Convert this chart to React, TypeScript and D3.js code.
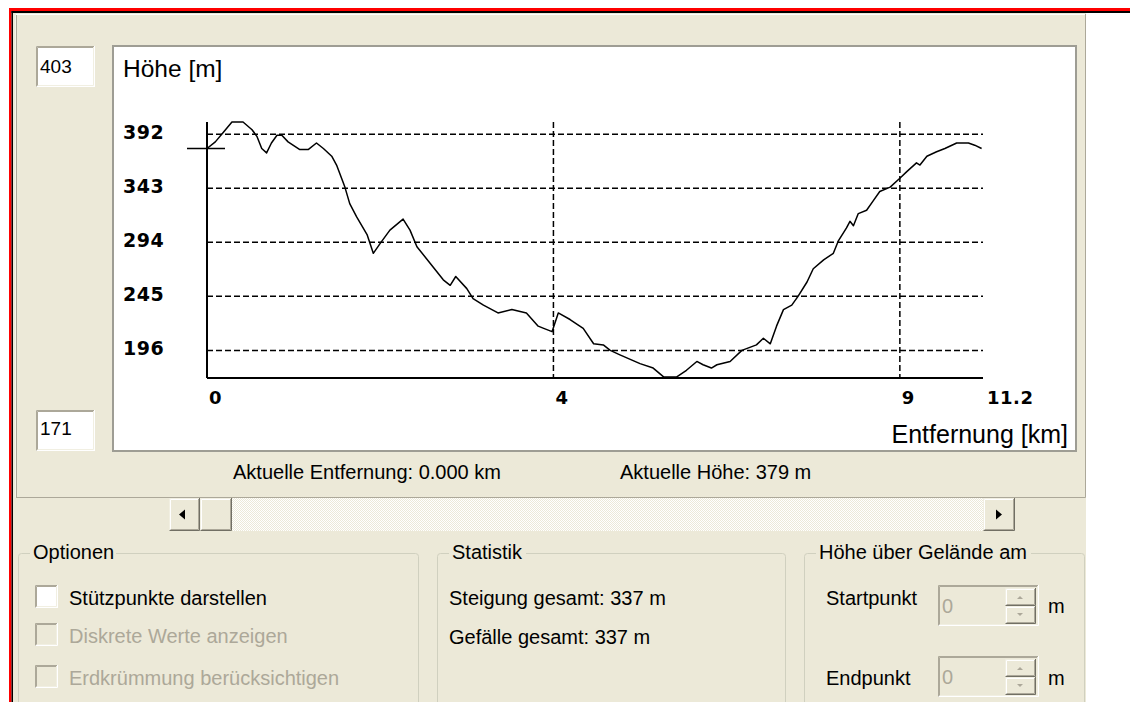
import * as d3 from 'd3'

// elevation profile
const distKm = [0, 0.12, 0.24, 0.36, 0.52, 0.65, 0.72, 0.79, 0.86, 0.93, 1.01, 1.08, 1.17, 1.34, 1.46, 1.58, 1.68, 1.8, 1.87, 1.99, 2.06, 2.16, 2.31, 2.4, 2.5, 2.64, 2.83, 2.93, 3.03, 3.22, 3.41, 3.51, 3.59, 3.75, 3.84, 3.99, 4.2, 4.4, 4.61, 4.78, 4.86, 4.98, 5.07, 5.24, 5.43, 5.58, 5.72, 5.82, 5.96, 6.25, 6.44, 6.59, 6.78, 6.92, 7.07, 7.16, 7.28, 7.36, 7.55, 7.72, 7.93, 8.03, 8.13, 8.22, 8.32, 8.44, 8.53, 8.66, 8.75, 8.9, 9.04, 9.11, 9.23, 9.28, 9.33, 9.4, 9.52, 9.62, 9.71, 9.86, 10.0, 10.1, 10.24, 10.29, 10.39, 10.53, 10.65, 10.82, 10.99, 11.08, 11.18]
const elevM = [379, 385, 394, 403, 403, 396, 390, 379, 375, 384, 391, 391, 385, 378, 378, 384, 379, 372, 364, 344, 329, 317, 301, 284, 293, 305, 315, 305, 290, 275, 260, 255, 263, 252, 243, 237, 230, 233, 230, 218, 216, 213, 230, 224, 216, 202, 201, 196, 192, 184, 180, 172, 172, 178, 186, 183, 180, 183, 186, 196, 201, 207, 202, 218, 233, 237, 245, 258, 270, 278, 284, 295, 307, 313, 309, 320, 323, 332, 340, 344, 352, 358, 366, 364, 372, 376, 379, 384, 384, 382, 379]

const yTicks = [196, 245, 294, 343, 392]
const xTickPos = [0, 5, 10]
const xTickLabels = ['0', '4', '9']
const totalKm = 11.2
const minElev = 171
const maxElev = 403
const curDist = 0
const curElev = 379
const ascent = 337
const descent = 337

const options = ['Stützpunkte darstellen', 'Diskrete Werte anzeigen', 'Erdkrümmung berücksichtigen']
const optionEnabled = [true, false, false]

const BEIGE = '#ECE9D8'
const DARK = '#716F64'
const MID = '#ACA899'
const LIGHT = '#F1EFE2'
const SANS = "'Liberation Sans', Arial, sans-serif"
const BOLD = "'DejaVu Sans', sans-serif"

function Sunken({ x, y, w, h, fill }: { x: number; y: number; w: number; h: number; fill: string }) {
  return (
    <g fill="none" strokeWidth={1}>
      <rect x={x} y={y} width={w} height={h} fill={fill} />
      <path d={`M${x + 0.5},${y + h} V${y + 0.5} H${x + w}`} stroke={MID} />
      <path d={`M${x + 1.5},${y + h - 1} V${y + 1.5} H${x + w - 1}`} stroke={MID} />
      <path d={`M${x + 0.5},${y + h - 0.5} H${x + w - 0.5} V${y}`} stroke="#fff" />
      <path d={`M${x + 1.5},${y + h - 1.5} H${x + w - 1.5} V${y + 1}`} stroke={LIGHT} />
    </g>
  )
}

function Raised({ x, y, w, h }: { x: number; y: number; w: number; h: number }) {
  return (
    <g fill="none" strokeWidth={1}>
      <rect x={x} y={y} width={w} height={h} fill={BEIGE} />
      <path d={`M${x + 0.5},${y + h} V${y + 0.5} H${x + w}`} stroke={LIGHT} />
      <path d={`M${x + 1.5},${y + h - 1} V${y + 1.5} H${x + w - 1}`} stroke="#fff" />
      <path d={`M${x + 0.5},${y + h - 0.5} H${x + w - 0.5} V${y}`} stroke={DARK} />
      <path d={`M${x + 1.5},${y + h - 1.5} H${x + w - 1.5} V${y + 1}`} stroke={MID} />
    </g>
  )
}

function GroupBox({ x, w, label, labelW }: { x: number; w: number; label: string; labelW: number }) {
  const top = 553
  return (
    <g>
      <rect x={x + 0.5} y={top + 0.5} width={w} height={200} rx={3} fill="none" stroke="#D0D0BF" />
      <rect x={x + 12} y={top - 8} width={labelW} height={16} fill={BEIGE} />
      <text x={x + 15} y={559} fontFamily={SANS} fontSize={20}>{label}</text>
    </g>
  )
}

function SpinEdit({ y }: { y: number }) {
  return (
    <g>
      <Sunken x={938} y={y} w={101} h={41} fill={BEIGE} />
      <text x={942} y={y + 28} fontFamily={SANS} fontSize={20} fill={MID}>0</text>
      <Raised x={1005} y={y + 3} w={31} h={18} />
      <Raised x={1005} y={y + 21} w={31} h={18} />
      <path d={`M${1017},${y + 14} l3,-3 l3,3 z`} fill={MID} />
      <path d={`M${1017},${y + 28} l3,3 l3,-3 z`} fill={MID} />
    </g>
  )
}

export default function App() {
  const x = d3.scaleLinear().domain([0, totalKm]).range([207, 983])
  const y = d3.scaleLinear().domain([minElev, maxElev]).range([378, 122])

  const pts = distKm.map((d, i) => [d, elevM[i]] as [number, number])
  const line = d3.line<[number, number]>().x(d => x(d[0])).y(d => y(d[1]))

  return (
    <svg width={1130} height={702} style={{ position: 'absolute', left: 0, top: 0, background: '#fff' }}>
      <defs>
        <pattern id="dither" width={2} height={2} patternUnits="userSpaceOnUse">
          <rect width={2} height={2} fill="#fff" />
          <rect width={1} height={1} fill={BEIGE} />
          <rect x={1} y={1} width={1} height={1} fill={BEIGE} />
        </pattern>
      </defs>

      {/* window frame */}
      <rect x={13} y={13} width={1073} height={689} fill={BEIGE} />
      <rect x={9} y={8} width={1121} height={3} fill="#f00" />
      <rect x={9} y={8} width={2.5} height={694} fill="#f00" />
      <rect x={11.5} y={11} width={1118.5} height={2} fill="#000" />
      <rect x={11.5} y={11} width={1.5} height={691} fill="#000" />
      <path d="M16,497.5 V14.5 H1085" stroke="#fff" fill="none" />
      <path d="M16.5,497 V15" stroke={MID} fill="none" />
      <path d="M16,497.5 H1085.5 V14" stroke={MID} fill="none" />

      {/* min / max boxes */}
      <Sunken x={36} y={46} w={59} h={41} fill="#fff" />
      <text x={40} y={73} fontFamily={SANS} fontSize={19}>{maxElev}</text>
      <Sunken x={36} y={410} w={59} h={41} fill="#fff" />
      <text x={40} y={435} fontFamily={SANS} fontSize={19}>{minElev}</text>

      {/* chart area */}
      <rect x={113} y={46} width={963} height={405} fill="#fff" stroke="#9E9D94" strokeWidth={2} />
      <text x={123} y={77} fontFamily={SANS} fontSize={24.5}>Höhe [m]</text>
      <text x={1068} y={443} fontFamily={SANS} fontSize={25} textAnchor="end">Entfernung [km]</text>

      {yTicks.map(t => (
        <g key={t}>
          <line x1={x(0)} x2={x(totalKm)} y1={y(t)} y2={y(t)} stroke="#000" strokeWidth={1.5} strokeDasharray="6,3" />
          <text x={123} y={y(t) + 5} fontFamily={BOLD} fontWeight="bold" fontSize={19} letterSpacing={0.5}>{t}</text>
        </g>
      ))}
      {xTickPos.map((t, i) => (
        <g key={t}>
          {t > 0 && (
            <line x1={x(t)} x2={x(t)} y1={y(maxElev)} y2={y(minElev)} stroke="#000" strokeWidth={1.5} strokeDasharray="6,3" />
          )}
          <text x={x(t) + 2} y={404} fontFamily={BOLD} fontWeight="bold" fontSize={18} letterSpacing={0.5}>{xTickLabels[i]}</text>
        </g>
      ))}
      <text x={x(totalKm) + 4} y={404} fontFamily={BOLD} fontWeight="bold" fontSize={18} letterSpacing={0.5}>{totalKm}</text>

      <line x1={x(0)} x2={x(0)} y1={y(maxElev)} y2={y(minElev)} stroke="#000" strokeWidth={2} />
      <line x1={x(0)} x2={x(totalKm)} y1={y(minElev)} y2={y(minElev)} stroke="#000" strokeWidth={2} />

      <path d={line(pts) ?? ''} fill="none" stroke="#000" strokeWidth={1.5} strokeLinejoin="round" />

      {/* cursor */}
      <line x1={x(curDist) - 20} x2={x(curDist) + 18} y1={y(curElev)} y2={y(curElev)} stroke="#000" strokeWidth={1.5} />

      <text x={233} y={479} fontFamily={SANS} fontSize={20}>{`Aktuelle Entfernung: ${curDist.toFixed(3)} km`}</text>
      <text x={620} y={479} fontFamily={SANS} fontSize={20}>{`Aktuelle Höhe: ${curElev} m`}</text>

      {/* scrollbar */}
      <rect x={232} y={498} width={751} height={33} fill="url(#dither)" />
      <Raised x={169} y={498} w={31} h={33} />
      <path d="M179,514.5 l6,-5 v10 z" fill="#000" />
      <Raised x={200} y={498} w={32} h={33} />
      <Raised x={983} y={498} w={32} h={33} />
      <path d="M1002,514.5 l-6,-5 v10 z" fill="#000" />

      {/* Optionen */}
      <GroupBox x={18} w={400} label="Optionen" labelW={86} />
      {options.map((o, i) => {
        const cy = [585, 623, 665][i]
        return (
          <g key={o}>
            <Sunken x={35} y={cy} w={23} h={23} fill={optionEnabled[i] ? '#fff' : BEIGE} />
            <text x={69} y={cy + 20} fontFamily={SANS} fontSize={20} fill={optionEnabled[i] ? '#000' : MID}>{o}</text>
          </g>
        )
      })}

      {/* Statistik */}
      <GroupBox x={437} w={348} label="Statistik" labelW={77} />
      <text x={449} y={605} fontFamily={SANS} fontSize={20}>{`Steigung gesamt: ${ascent} m`}</text>
      <text x={449} y={644} fontFamily={SANS} fontSize={20}>{`Gefälle gesamt: ${descent} m`}</text>

      {/* Höhe über Gelände */}
      <GroupBox x={804} w={280} label="Höhe über Gelände am" labelW={215} />
      <text x={826} y={605} fontFamily={SANS} fontSize={20}>Startpunkt</text>
      <SpinEdit y={585} />
      <text x={1048} y={613} fontFamily={SANS} fontSize={20}>m</text>
      <text x={826} y={685} fontFamily={SANS} fontSize={20}>Endpunkt</text>
      <SpinEdit y={656} />
      <text x={1048} y={685} fontFamily={SANS} fontSize={20}>m</text>
    </svg>
  )
}
